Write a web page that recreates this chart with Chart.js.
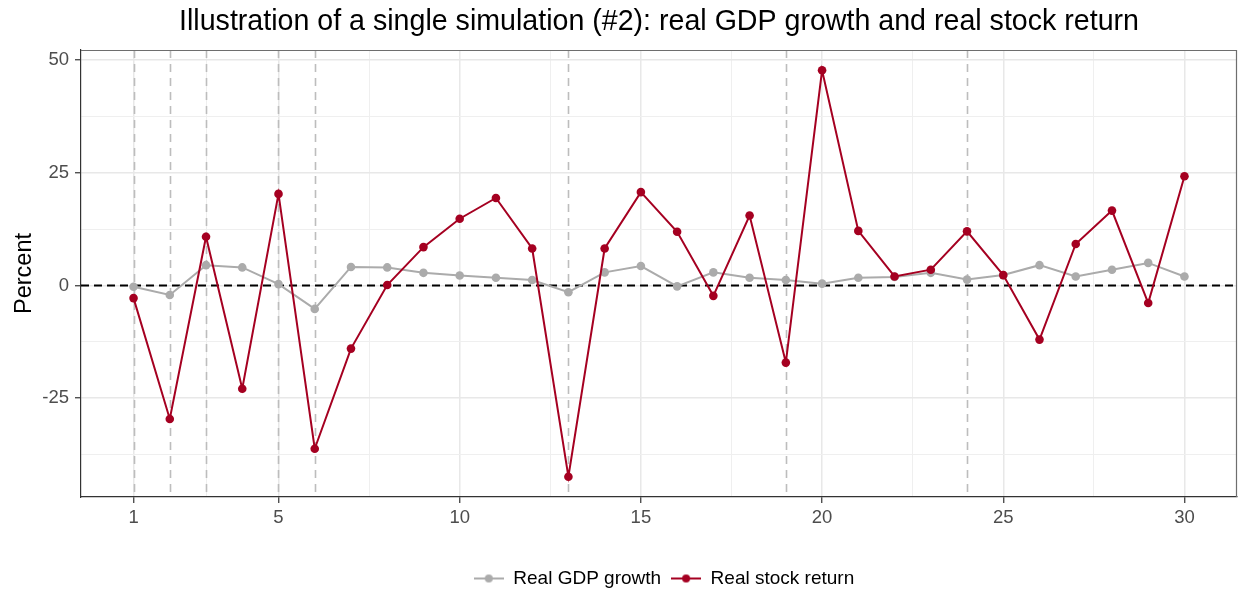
<!DOCTYPE html>
<html>
<head>
<meta charset="utf-8">
<script src="https://cdn.jsdelivr.net/npm/chart.js@4.4.1/dist/chart.umd.min.js"></script>
<style>
  html, body { margin: 0; padding: 0; background: #ffffff; }
  #wrap { width: 1238px; height: 592px; }
</style>
</head>
<body>
<div id="wrap"><canvas id="c" width="1238" height="592"></canvas></div>
<script>
// ---- Data ----
const periods = [1,2,3,4,5,6,7,8,9,10,11,12,13,14,15,16,17,18,19,20,21,22,23,24,25,26,27,28,29,30];
const gdpGrowth = [-0.3,-2.1,4.5,4.0,0.3,-5.2,4.1,4.0,2.8,2.2,1.7,1.2,-1.5,2.9,4.3,-0.2,2.9,1.7,1.2,0.4,1.7,1.9,2.8,1.3,2.3,4.5,2.0,3.5,5.0,2.0];
const stockReturn = [-2.8,-29.6,10.8,-22.9,20.3,-36.2,-14.0,0.1,8.5,14.8,19.4,8.2,-42.4,8.2,20.7,11.9,-2.3,15.5,-17.1,47.7,12.1,2.0,3.5,12.0,2.3,-12.0,9.2,16.6,-3.9,24.2];
const markedPeriods = [1,2,3,5,6,13,19,24];
const xMajorTicks = [1,5,10,15,20,25,30];
const xMinorTicks = [3,7.5,12.5,17.5,22.5,27.5];
const yMajorTicks = [-25,0,25,50];
const yMinorTicks = [-37.5,-12.5,12.5,37.5];
const seriesNames = ['Real GDP growth','Real stock return'];
const titleText = 'Illustration of a single simulation (#2): real GDP growth and real stock return';
const yTitle = 'Percent';

const GREY = '#ababab';
const RED = '#a50021';
const FONT = "'Liberation Sans', Arial, Helvetica, sans-serif";
Chart.defaults.font.family = FONT;

function legendIcon(color) {
  const cv = document.createElement('canvas');
  cv.width = 30; cv.height = 10;
  const g = cv.getContext('2d');
  g.strokeStyle = color; g.lineWidth = 2;
  g.beginPath(); g.moveTo(0, 5); g.lineTo(30, 5); g.stroke();
  g.fillStyle = color;
  g.beginPath(); g.arc(15, 5, 4, 0, Math.PI * 2); g.fill();
  return cv;
}
const icons = [legendIcon(GREY), legendIcon(RED)];

const refLines = {
  id: 'refLines',
  afterLayout(chart) {
    if (chart.legend) { chart.legend.left += 5; chart.legend.right += 5; }
  },
  beforeDatasetsDraw(chart) {
    const {ctx, chartArea: a, scales: {x, y}} = chart;
    ctx.save();
    ctx.beginPath(); ctx.rect(a.left, a.top, a.right - a.left, a.bottom - a.top); ctx.clip();
    ctx.strokeStyle = '#bdbdbd';
    ctx.lineWidth = 1.6;
    ctx.setLineDash([8, 6]);
    markedPeriods.forEach(p => {
      const px = Math.round(x.getPixelForValue(p)) + 0.5;
      ctx.beginPath(); ctx.moveTo(px, a.top); ctx.lineTo(px, a.bottom); ctx.stroke();
    });
    ctx.strokeStyle = '#000000';
    ctx.lineWidth = 2;
    ctx.setLineDash([8, 5]);
    const py = y.getPixelForValue(0);
    ctx.beginPath(); ctx.moveTo(a.left, py); ctx.lineTo(a.right, py); ctx.stroke();
    ctx.restore();
  },
  afterDraw(chart) {
    const {ctx, chartArea: a} = chart;
    ctx.save();
    ctx.strokeStyle = '#6e6e6e';
    ctx.lineWidth = 1.2;
    ctx.beginPath();
    ctx.moveTo(a.left, a.top + 0.5); ctx.lineTo(a.right - 0.5, a.top + 0.5); ctx.lineTo(a.right - 0.5, a.bottom);
    ctx.stroke();
    ctx.restore();
  }
};

const isIn = (arr, v) => arr.some(t => Math.abs(t - v) < 1e-9);

new Chart(document.getElementById('c'), {
  type: 'line',
  data: {
    datasets: [
      {
        label: seriesNames[0],
        data: periods.map((p, i) => ({x: p, y: gdpGrowth[i]})),
        borderColor: GREY, backgroundColor: GREY,
        borderWidth: 2, pointRadius: 4.3, pointBorderWidth: 0,
        pointBackgroundColor: GREY, tension: 0, order: 2
      },
      {
        label: seriesNames[1],
        data: periods.map((p, i) => ({x: p, y: stockReturn[i]})),
        borderColor: RED, backgroundColor: RED,
        borderWidth: 2, pointRadius: 4.3, pointBorderWidth: 0,
        pointBackgroundColor: RED, tension: 0, order: 1
      }
    ]
  },
  options: {
    responsive: false,
    animation: false,
    events: [],
    layout: { autoPadding: false, padding: { left: 0, right: 1, top: 0, bottom: -6 } },
    plugins: {
      tooltip: { enabled: false },
      title: {
        display: true, text: titleText, fullSize: false,
        color: '#000000', font: { size: 28.6, weight: 'normal', family: FONT },
        padding: { top: 5, bottom: 10.7 }
      },
      legend: {
        display: true, position: 'bottom', fullSize: false,
        labels: {
          usePointStyle: true, pointStyleWidth: 30,
          padding: 10, color: '#000000',
          font: { size: 19, family: FONT },
          generateLabels: () => seriesNames.map((n, i) => ({
            text: n, pointStyle: icons[i], fillStyle: i ? RED : GREY,
            strokeStyle: i ? RED : GREY, lineWidth: 0, hidden: false, datasetIndex: i
          }))
        }
      }
    },
    scales: {
      x: {
        type: 'linear', min: -0.45, max: 31.45,
        afterBuildTicks: s => { s.ticks = xMajorTicks.concat(xMinorTicks).sort((a, b) => a - b).map(v => ({value: v})); },
        afterFit: s => { s.height = 62; s.paddingLeft = 0; s.paddingRight = 0; },
        ticks: {
          autoSkip: false, maxRotation: 0, padding: 4, color: '#4d4d4d',
          font: { size: 18.5, family: FONT },
          callback: v => isIn(xMajorTicks, v) ? String(v) : ''
        },
        grid: {
          drawTicks: true, tickLength: 6,
          color: c => (c.tick && isIn(xMajorTicks, c.tick.value)) ? '#e8e8e8' : '#efefef',
          lineWidth: c => (c.tick && isIn(xMajorTicks, c.tick.value)) ? 1.5 : 1,
          tickColor: c => (c.tick && isIn(xMajorTicks, c.tick.value)) ? '#333333' : 'rgba(0,0,0,0)',
          tickWidth: 1.2
        },
        border: { display: true, color: '#333333', width: 1.2 }
      },
      y: {
        type: 'linear', min: -46.9, max: 52.2,
        afterBuildTicks: s => { s.ticks = yMajorTicks.concat(yMinorTicks).sort((a, b) => a - b).map(v => ({value: v})); },
        afterFit: s => { s.width = 81; },
        title: {
          display: true, text: yTitle, color: '#000000',
          font: { size: 23.5, family: FONT }, padding: { top: 10, bottom: 0 }
        },
        ticks: {
          autoSkip: false, padding: 6, color: '#4d4d4d',
          font: { size: 18.5, family: FONT },
          callback: v => isIn(yMajorTicks, v) ? String(v) : ''
        },
        grid: {
          drawTicks: true, tickLength: 6,
          color: c => (c.tick && isIn(yMajorTicks, c.tick.value)) ? '#e8e8e8' : '#efefef',
          lineWidth: c => (c.tick && isIn(yMajorTicks, c.tick.value)) ? 1.5 : 1,
          tickColor: c => (c.tick && isIn(yMajorTicks, c.tick.value)) ? '#333333' : 'rgba(0,0,0,0)',
          tickWidth: 1.2
        },
        border: { display: true, color: '#333333', width: 1.2 }
      }
    }
  },
  plugins: [refLines]
});
</script>
</body>
</html>
